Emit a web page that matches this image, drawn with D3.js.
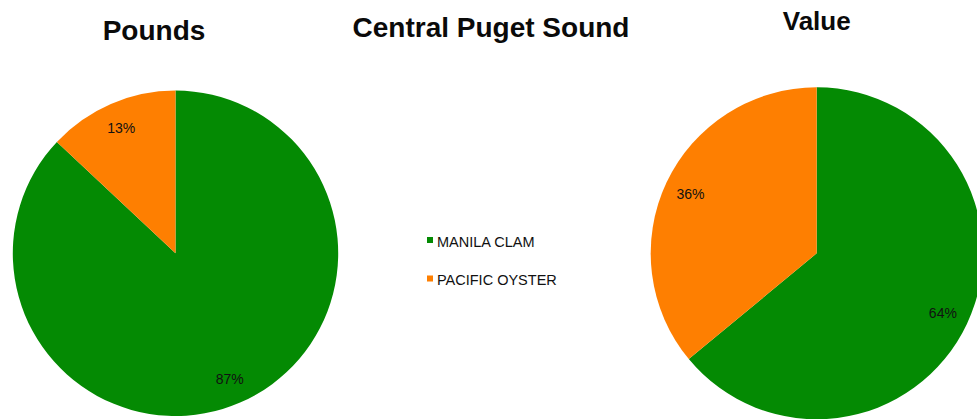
<!DOCTYPE html>
<html>
<head>
<meta charset="utf-8">
<script src="https://d3js.org/d3.v7.min.js"></script>
<style>
  body { margin: 0; background: #fff; }
  svg { display: block; font-family: "Liberation Sans", Arial, sans-serif; }
</style>
</head>
<body>
<div id="chart"></div>
<script>
// canvas
var w = 977, h = 419;

// data
var species = ["MANILA CLAM", "PACIFIC OYSTER"];
var poundsShare = [87, 13];
var valueShare = [64, 36];
var pieTitles = ["Pounds", "Value"];
var mainTitle = "Central Puget Sound";

var color = d3.scaleOrdinal().domain(species).range(["#048a03", "#fe7f01"]);

var svg = d3.select("#chart")
    .append("svg")
    .attr("width", w)
    .attr("height", h);

// main title
svg.append("text")
    .attr("x", 491)
    .attr("y", 37)
    .attr("text-anchor", "middle")
    .style("font-size", "28px")
    .style("font-weight", "bold")
    .style("fill", "#0a0a0a")
    .text(mainTitle);

// one pie per measure
function drawPie(values, title, cx, cy, r, tx, ty, tsize) {
    var data = species.map(function(d, i) { return {key: d, value: values[i]}; });
    var pie = d3.pie().sort(null).value(function(d) { return d.value; });
    var arc = d3.arc().innerRadius(0).outerRadius(r);
    var labelArc = d3.arc().innerRadius(r * 0.84).outerRadius(r * 0.84);

    var g = svg.append("g").attr("transform", "translate(" + cx + "," + cy + ")");

    g.selectAll("path")
        .data(pie(data))
        .enter()
        .append("path")
        .attr("d", arc)
        .style("fill", function(d) { return color(d.data.key); });

    g.selectAll("text.pct")
        .data(pie(data))
        .enter()
        .append("text")
        .attr("class", "pct")
        .attr("transform", function(d) { return "translate(" + labelArc.centroid(d) + ")"; })
        .attr("text-anchor", "middle")
        .attr("dy", "0.36em")
        .style("font-size", "14px")
        .style("fill", "#111")
        .text(function(d) { return d.data.value + "%"; });

    svg.append("text")
        .attr("x", tx)
        .attr("y", ty)
        .attr("text-anchor", "middle")
        .style("font-size", tsize + "px")
        .style("font-weight", "bold")
        .style("fill", "#0a0a0a")
        .text(title);
}

drawPie(poundsShare, pieTitles[0], 175.5, 253.3, 162.7, 154, 40, 28);
drawPie(valueShare, pieTitles[1], 816.7, 253.3, 166, 816.7, 30, 26);

// legend
var legend = svg.selectAll("g.legend")
    .data(species)
    .enter()
    .append("g")
    .attr("class", "legend")
    .attr("transform", function(d, i) { return "translate(427," + (237 + i * 38.5) + ")"; });

legend.append("rect")
    .attr("width", 6)
    .attr("height", 6)
    .style("fill", function(d) { return color(d); });

legend.append("text")
    .attr("x", 10)
    .attr("y", 9.7)
    .style("font-size", "14.5px")
    .style("fill", "#111")
    .text(function(d) { return d; });
</script>
</body>
</html>
